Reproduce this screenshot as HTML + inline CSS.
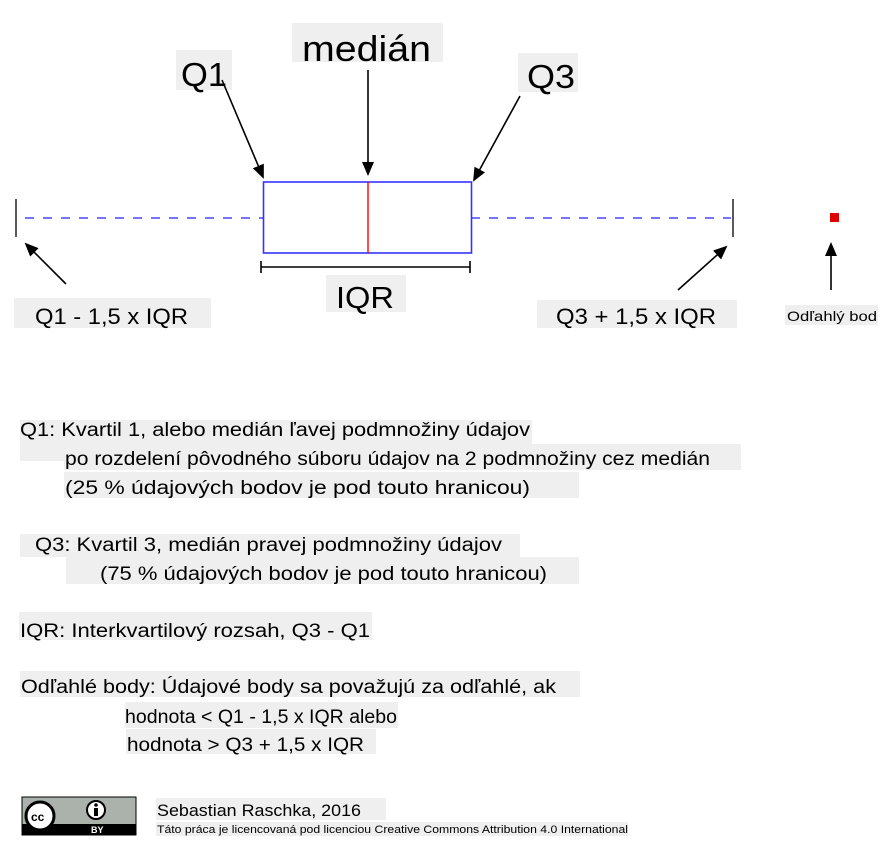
<!DOCTYPE html>
<html><head><meta charset="utf-8"><style>html,body{margin:0;padding:0;background:#fff}svg{display:block}</style></head><body>
<svg width="880" height="848" viewBox="0 0 880 848" xmlns="http://www.w3.org/2000/svg" font-family="Liberation Sans, DejaVu Sans, sans-serif">
<defs><marker id="a" markerWidth="14" markerHeight="12" refX="12" refY="6" orient="auto" markerUnits="userSpaceOnUse"><path d="M0,0 L14,6 L0,12 z" fill="#000"/></marker></defs>
<g fill="#efefef">
<rect x="176" y="50" width="56" height="40"/><rect x="292" y="23" width="151" height="39"/><rect x="518" y="53" width="60" height="39"/>
<rect x="326" y="275" width="80" height="37"/><rect x="14" y="298" width="197" height="30"/><rect x="537" y="300" width="200" height="28"/><rect x="785" y="305" width="93" height="20"/>
<rect x="20" y="420" width="512" height="41"/><rect x="64" y="444" width="677" height="26"/><rect x="64" y="472" width="515" height="26"/>
<rect x="20" y="534" width="500" height="23"/><rect x="66" y="557" width="513" height="27"/><rect x="19" y="612" width="353" height="28"/>
<rect x="20" y="671" width="560" height="26"/><rect x="125" y="702" width="273" height="26"/><rect x="126" y="729" width="250" height="25"/>
<rect x="156" y="798" width="230" height="22"/><rect x="156" y="822" width="472" height="14"/>
</g>
<g fill="#000">
<text x="181" y="86" font-size="33" textLength="46" lengthAdjust="spacingAndGlyphs">Q1</text>
<text x="302" y="61" font-size="36" textLength="129" lengthAdjust="spacingAndGlyphs">medián</text>
<text x="527" y="88" font-size="33" textLength="48" lengthAdjust="spacingAndGlyphs">Q3</text>
<text x="336" y="308" font-size="31" textLength="58" lengthAdjust="spacingAndGlyphs">IQR</text>
<text x="35" y="324" font-size="22" textLength="153" lengthAdjust="spacingAndGlyphs">Q1 - 1,5 x IQR</text>
<text x="556" y="324" font-size="22" textLength="160" lengthAdjust="spacingAndGlyphs">Q3 + 1,5 x IQR</text>
<text x="787" y="321" font-size="14" textLength="90" lengthAdjust="spacingAndGlyphs">Odľahlý bod</text>
<g font-size="19">
<text x="20" y="436" textLength="510" lengthAdjust="spacingAndGlyphs">Q1: Kvartil 1, alebo medián ľavej podmnožiny údajov</text>
<text x="65" y="465" textLength="645" lengthAdjust="spacingAndGlyphs">po rozdelení pôvodného súboru údajov na 2 podmnožiny cez medián</text>
<text x="65" y="494" textLength="465" lengthAdjust="spacingAndGlyphs">(25 % údajových bodov je pod touto hranicou)</text>
<text x="35" y="551" textLength="467" lengthAdjust="spacingAndGlyphs">Q3: Kvartil 3, medián pravej podmnožiny údajov</text>
<text x="100" y="580" textLength="447" lengthAdjust="spacingAndGlyphs">(75 % údajových bodov je pod touto hranicou)</text>
<text x="20" y="637" textLength="350" lengthAdjust="spacingAndGlyphs">IQR: Interkvartilový rozsah, Q3 - Q1</text>
<text x="21" y="693" textLength="535" lengthAdjust="spacingAndGlyphs">Odľahlé body: Údajové body sa považujú za odľahlé, ak</text>
<text x="125" y="723" textLength="272" lengthAdjust="spacingAndGlyphs">hodnota &lt; Q1 - 1,5 x IQR alebo</text>
<text x="127" y="751" textLength="237" lengthAdjust="spacingAndGlyphs">hodnota &gt; Q3 + 1,5 x IQR</text>
</g>
<text x="157" y="816" font-size="17" textLength="204" lengthAdjust="spacingAndGlyphs">Sebastian Raschka, 2016</text>
<text x="157" y="833" font-size="11" textLength="471" lengthAdjust="spacingAndGlyphs">Táto práca je licencovaná pod licenciou Creative Commons Attribution 4.0 International</text>
</g>
<line x1="16" y1="199" x2="16" y2="237" stroke="#000" stroke-width="1.3"/>
<line x1="733" y1="199" x2="733" y2="237" stroke="#000" stroke-width="1.3"/>
<line x1="25" y1="218" x2="263" y2="218" stroke="#2020ff" stroke-width="1.3" stroke-dasharray="9,9"/>
<line x1="471" y1="218" x2="731" y2="218" stroke="#2020ff" stroke-width="1.3" stroke-dasharray="9,9"/>
<rect x="263.5" y="182" width="208" height="71" fill="none" stroke="#3333ff" stroke-width="1.6"/>
<line x1="368" y1="182" x2="368" y2="253" stroke="#ff0000" stroke-width="1.4"/>
<rect x="830" y="213" width="9" height="9" fill="#dd0000"/>
<g stroke="#000" stroke-width="1.6">
<line x1="261" y1="267" x2="470" y2="267"/><line x1="261" y1="261" x2="261" y2="273"/><line x1="470" y1="261" x2="470" y2="273"/>
<line x1="222" y1="80" x2="263" y2="177" marker-end="url(#a)"/>
<line x1="368" y1="70" x2="368" y2="174" marker-end="url(#a)"/>
<line x1="520" y1="96" x2="474" y2="180" marker-end="url(#a)"/>
<line x1="66" y1="284" x2="26" y2="244" marker-end="url(#a)"/>
<line x1="678" y1="290" x2="726" y2="247" marker-end="url(#a)"/>
<line x1="831" y1="290" x2="831" y2="244" marker-end="url(#a)"/>
</g>
<rect x="22" y="797" width="114" height="38" fill="#aab2ab" stroke="#000" stroke-width="1"/>
<rect x="22" y="824" width="114" height="11" fill="#000"/>
<text x="91" y="833" font-size="9" fill="#fff" font-weight="bold">BY</text>
<circle cx="40" cy="816" r="14" fill="#fff" stroke="#000" stroke-width="3"/>
<text x="31" y="821" font-size="12" fill="#000" font-weight="bold">cc</text>
<circle cx="96" cy="810" r="9" fill="#fff" stroke="#000" stroke-width="2"/>
<circle cx="96" cy="805" r="1.8" fill="#000"/>
<rect x="94" y="808" width="4" height="8" fill="#000"/>
</svg>
</body></html>
